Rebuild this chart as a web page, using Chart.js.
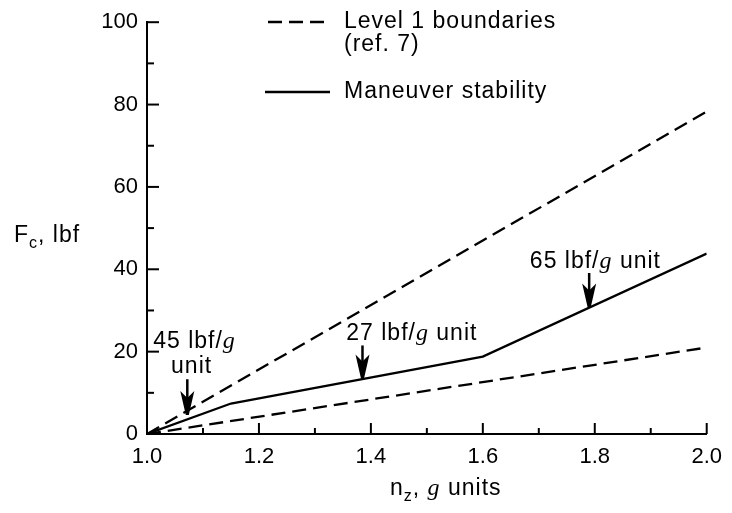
<!DOCTYPE html>
<html>
<head>
<meta charset="utf-8">
<script src="https://cdn.jsdelivr.net/npm/chart.js@4.4.1/dist/chart.umd.min.js"></script>
<style>
  html, body { margin: 0; padding: 0; background: #fff; }
  #wrap { width: 732px; height: 513px; }
</style>
</head>
<body>
<div id="wrap"><canvas id="chart" width="732" height="513"></canvas></div>
<script>
// data
const level1Upper = [{x: 1.0, y: 0}, {x: 2.0, y: 78.3}];
const level1Lower = [{x: 1.0, y: 0}, {x: 2.0, y: 21}];
const maneuver = [{x: 1.0, y: 0}, {x: 1.15, y: 7.4}, {x: 1.6, y: 18.8}, {x: 2.0, y: 43.8}];

// gradient callouts: text lines and arrows, in data units
const callouts = [
  {lines: [["45 lbf/", "g"]], x: 1.011, y: 22.5},
  {lines: [["unit"]], x: 1.043, y: 16.4},
  {lines: [["27 lbf/", "g", " unit"]], x: 1.356, y: 24.4},
  {lines: [["65 lbf/", "g", " unit"]], x: 1.684, y: 41.8}
];
const arrows = [
  {x: 1.072, top: 13.3, tip: 4.6},
  {x: 1.385, top: 21.5, tip: 13.5},
  {x: 1.79, top: 39.1, tip: 30.7}
];

const FONT = '"Liberation Sans", Arial, Helvetica, sans-serif';
const SERIF = '"Liberation Serif", "DejaVu Serif", serif';
const TXT = "23px " + FONT;

function drawParts(ctx, parts, x, y) {
  let cx = x;
  parts.forEach(p => {
    ctx.font = (p === "g") ? "italic 24px " + SERIF : TXT;
    ctx.fillText(p, cx, y);
    cx += ctx.measureText(p).width;
  });
}

function arrow(ctx, x, y0, y1) {
  ctx.save();
  ctx.strokeStyle = "#000";
  ctx.fillStyle = "#000";
  ctx.lineWidth = 2.5;
  ctx.beginPath();
  ctx.moveTo(x, y0);
  ctx.lineTo(x, y1 - 10);
  ctx.stroke();
  ctx.beginPath();
  ctx.moveTo(x - 7, y1 - 24);
  ctx.lineTo(x, y1 - 17);
  ctx.lineTo(x + 7, y1 - 24);
  ctx.lineTo(x + 1.5, y1);
  ctx.lineTo(x - 1.5, y1);
  ctx.closePath();
  ctx.fill();
  ctx.restore();
}

const extras = {
  id: "extras",
  afterDraw(chart) {
    const ctx = chart.ctx;
    const xs = chart.scales.x, ys = chart.scales.y;
    const area = chart.chartArea;
    ctx.save();
    ctx.strokeStyle = "#000";
    ctx.lineWidth = 2;
    // inward tick marks
    for (let i = 0; i <= 10; i++) {
      const px = xs.getPixelForValue(1 + i / 10);
      const len = (i % 2 === 0) ? 11 : 6;
      ctx.beginPath();
      ctx.moveTo(px, area.bottom);
      ctx.lineTo(px, area.bottom - len);
      ctx.stroke();
    }
    for (let i = 0; i <= 10; i++) {
      const py = ys.getPixelForValue(i * 10);
      const len = (i % 2 === 0) ? 12 : 7;
      ctx.beginPath();
      ctx.moveTo(area.left, py);
      ctx.lineTo(area.left + len, py);
      ctx.stroke();
    }

    ctx.fillStyle = "#000";
    ctx.textBaseline = "middle";
    ctx.textAlign = "left";
    ctx.letterSpacing = "1px";

    // axis titles
    ctx.font = TXT;
    let tx = 14, ty = 236;
    ctx.fillText("F", tx, ty);
    tx += ctx.measureText("F").width;
    ctx.font = "16px " + FONT;
    ctx.fillText("c", tx, ty + 8);
    tx += ctx.measureText("c").width;
    ctx.font = TXT;
    ctx.fillText(", lbf", tx, ty);

    tx = 390; ty = 489;
    ctx.fillText("n", tx, ty);
    tx += ctx.measureText("n").width;
    ctx.font = "16px " + FONT;
    ctx.fillText("z", tx, ty + 8);
    tx += ctx.measureText("z").width;
    ctx.font = TXT;
    ctx.fillText(", ", tx, ty);
    tx += ctx.measureText(", ").width;
    ctx.font = "italic 24px " + SERIF;
    ctx.fillText("g", tx, ty);
    tx += ctx.measureText("g").width;
    ctx.font = TXT;
    ctx.fillText(" units", tx, ty);

    // legend
    const ds = chart.data.datasets;
    ctx.lineWidth = ds[0].borderWidth;
    ctx.strokeStyle = ds[0].borderColor;
    ctx.setLineDash(ds[0].borderDash);
    ctx.beginPath();
    ctx.moveTo(268, 22);
    ctx.lineTo(330, 22);
    ctx.stroke();
    ctx.setLineDash([]);
    ctx.beginPath();
    ctx.moveTo(265, 92);
    ctx.lineTo(330, 92);
    ctx.stroke();
    ctx.font = TXT;
    ctx.fillText(ds[0].label, 344, 22);
    ctx.fillText("(ref. 7)", 344, 45);
    ctx.fillText(ds[2].label, 344, 92);

    // callouts
    callouts.forEach(c => {
      c.lines.forEach(parts => drawParts(ctx, parts, xs.getPixelForValue(c.x), ys.getPixelForValue(c.y)));
    });
    arrows.forEach(a => {
      arrow(ctx, xs.getPixelForValue(a.x), ys.getPixelForValue(a.top), ys.getPixelForValue(a.tip));
    });
    ctx.restore();
  }
};

new Chart(document.getElementById("chart"), {
  type: "line",
  data: {
    datasets: [{
      label: "Level 1 boundaries",
      data: level1Upper,
      borderColor: "#000",
      borderWidth: 2.3,
      borderDash: [14, 7],
      pointRadius: 0,
      fill: false
    }, {
      label: "Level 1 boundaries lower",
      data: level1Lower,
      borderColor: "#000",
      borderWidth: 2.3,
      borderDash: [14, 7],
      pointRadius: 0,
      fill: false
    }, {
      label: "Maneuver stability",
      data: maneuver,
      borderColor: "#000",
      borderWidth: 2.3,
      pointRadius: 0,
      fill: false
    }]
  },
  options: {
    responsive: false,
    animation: false,
    events: [],
    layout: {padding: {top: 20, right: 22, left: 0, bottom: 0}},
    plugins: {legend: {display: false}, tooltip: {enabled: false}},
    scales: {
      x: {
        type: "linear",
        min: 1, max: 2,
        grid: {display: false, drawTicks: false},
        border: {display: true, color: "#000", width: 2},
        ticks: {
          stepSize: 0.2,
          padding: 10,
          color: "#000",
          font: {family: FONT, size: 22},
          callback: v => v.toFixed(1)
        },
        afterFit: s => { s.height = 79; }
      },
      y: {
        min: 0, max: 100,
        grid: {display: false, drawTicks: false},
        border: {display: true, color: "#000", width: 2},
        ticks: {
          stepSize: 20,
          padding: 9,
          color: "#000",
          font: {family: FONT, size: 22}
        },
        afterFit: s => { s.width = 147; }
      }
    }
  },
  plugins: [extras]
});
</script>
</body>
</html>
